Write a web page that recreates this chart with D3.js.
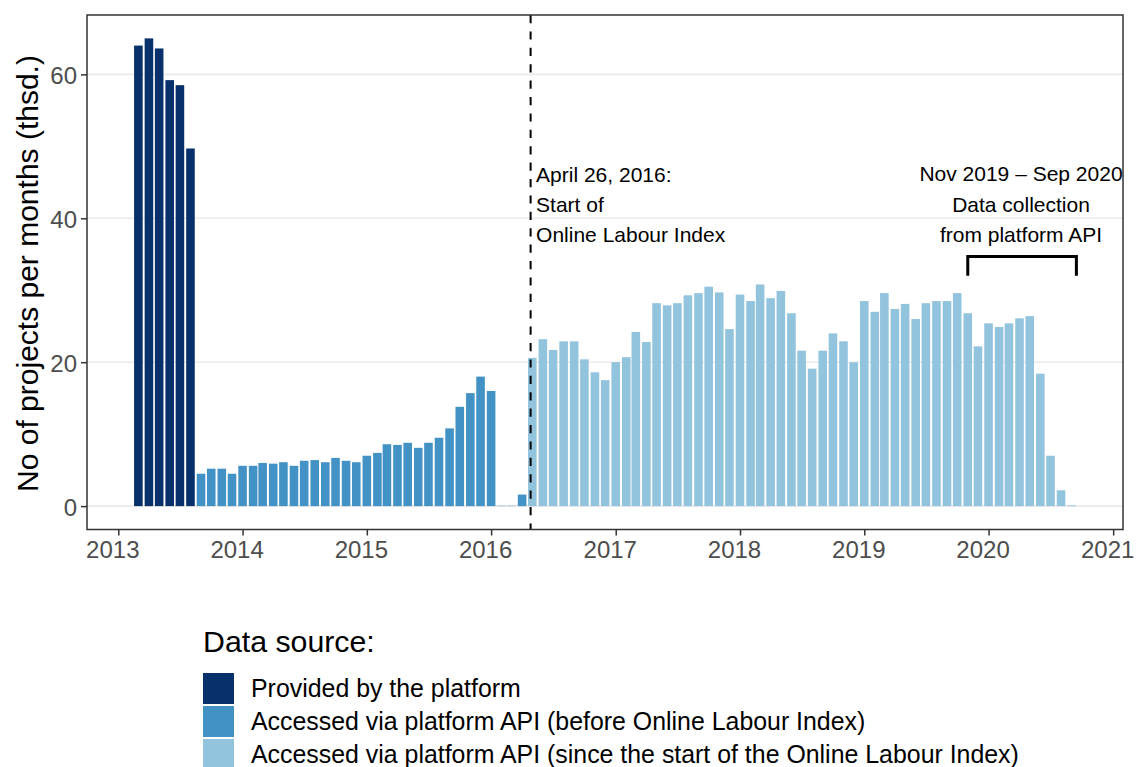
<!DOCTYPE html>
<html>
<head>
<meta charset="utf-8">
<script src="https://cdn.jsdelivr.net/npm/d3@7"></script>
<style>
  body { margin: 0; background: #fff; }
  svg { font-family: "Liberation Sans", Arial, sans-serif; }
</style>
</head>
<body>
<svg id="chart" width="1136" height="767"></svg>
<script>
// monthly project counts (thousands)
const platformStart = "2013-03";
const platformValues = [64.0, 65.0, 63.6, 59.2, 58.5, 49.7];

const apiBeforeStart = "2013-09";
const apiBeforeValues = [4.5, 5.2, 5.2, 4.5, 5.6, 5.6, 6.0, 5.9, 6.1, 5.6, 6.3, 6.4,
  6.1, 6.7, 6.3, 6.1, 7.0, 7.4, 8.6, 8.5, 8.8, 8.1, 8.8, 9.5,
  10.8, 13.8, 15.7, 18.0, 16.0, 0.05, 0.05, 1.6];

const apiSinceStart = "2016-05";
const apiSinceValues = [20.6, 23.2, 21.7, 22.9, 22.9, 20.4, 18.6, 17.5,
  20.0, 20.7, 24.2, 22.8, 28.2, 27.9, 28.2, 29.3, 29.6, 30.5, 29.7, 24.6,
  29.4, 28.5, 30.8, 28.9, 29.9, 26.8, 21.6, 19.1, 21.6, 24.0, 22.9, 20.0,
  28.5, 27.0, 29.6, 27.4, 28.1, 26.0, 28.2, 28.5, 28.5, 29.6, 26.8, 22.2,
  25.4, 24.9, 25.4, 26.1, 26.4, 18.4, 7.0, 2.2, 0.1];

const sourceLabels = [
  "Provided by the platform",
  "Accessed via platform API (before Online Labour Index)",
  "Accessed via platform API (since the start of the Online Labour Index)"
];
const sourceColors = ["#08306b", "#4292c6", "#93c4de"];

const yTicks = [0, 20, 40, 60];
const xTickYears = [2013, 2014, 2015, 2016, 2017, 2018, 2019, 2020, 2021];

const oliStart = "2016-04-26";
const oliText = ["April 26, 2016:", "Start of", "Online Labour Index"];
const apiWindow = ["2019-11-01", "2020-09-15"];
const apiText = ["Nov 2019 \u2013 Sep 2020", "Data collection", "from platform API"];

const parseMonth = d3.timeParse("%Y-%m");
const parseDay = d3.timeParse("%Y-%m-%d");

function series(start, values, group) {
  const t0 = parseMonth(start);
  return values.map((v, i) => ({date: d3.timeMonth.offset(t0, i), value: v, group}));
}
const data = [].concat(
  series(platformStart, platformValues, 0),
  series(apiBeforeStart, apiBeforeValues, 1),
  series(apiSinceStart, apiSinceValues, 2)
);

const svg = d3.select("#chart");
const margin = {left: 87, right: 1123, top: 15, bottom: 529.5};

// bar width = 0.9 * smallest gap between months (28 days)
const halfBar = 0.45 * 28 * 864e5;
const dMin = +d3.min(data, d => d.date) - halfBar;
const dMax = +d3.max(data, d => d.date) + halfBar;
const pad = (dMax - dMin) * 0.05;
const x = d3.scaleTime()
  .domain([new Date(dMin - pad), new Date(dMax + pad)])
  .range([margin.left, margin.right]);

const yMax = d3.max(data, d => d.value);
const y = d3.scaleLinear()
  .domain([-yMax * 0.05, yMax * 1.05])
  .range([margin.bottom, margin.top]);

// grid
svg.append("g")
  .selectAll("line")
  .data(yTicks)
  .join("line")
  .attr("x1", margin.left).attr("x2", margin.right)
  .attr("y1", d => y(d)).attr("y2", d => y(d))
  .attr("stroke", "#ebebeb").attr("stroke-width", 1.6);

// bars
svg.append("g")
  .selectAll("rect")
  .data(data)
  .join("rect")
  .attr("x", d => x(new Date(+d.date - halfBar)))
  .attr("width", d => x(new Date(+d.date + halfBar)) - x(new Date(+d.date - halfBar)))
  .attr("y", d => y(d.value))
  .attr("height", d => y(0) - y(d.value))
  .attr("fill", d => sourceColors[d.group]);

// dashed line for OLI start
const xo = x(parseDay(oliStart));
svg.append("line")
  .attr("x1", xo).attr("x2", xo)
  .attr("y1", margin.top).attr("y2", margin.bottom)
  .attr("stroke", "#000").attr("stroke-width", 2)
  .attr("stroke-dasharray", "8.2,8.2");

// annotation texts
svg.append("g")
  .selectAll("text")
  .data(oliText)
  .join("text")
  .attr("x", xo + 5.5)
  .attr("y", (d, i) => 182.3 + i * 30)
  .attr("font-size", 21)
  .attr("fill", "#000")
  .text(d => d);

const bx0 = x(parseDay(apiWindow[0])), bx1 = x(parseDay(apiWindow[1]));
svg.append("g")
  .selectAll("text")
  .data(apiText)
  .join("text")
  .attr("x", 1021)
  .attr("y", (d, i) => 181 + i * 30.5)
  .attr("text-anchor", "middle")
  .attr("font-size", 21)
  .attr("fill", "#000")
  .text(d => d);

svg.append("path")
  .attr("d", `M${bx0},${y(32)}V${y(34.7)}H${bx1}V${y(32)}`)
  .attr("fill", "none")
  .attr("stroke", "#000")
  .attr("stroke-width", 3);

// panel border
svg.append("rect")
  .attr("x", margin.left).attr("y", margin.top)
  .attr("width", margin.right - margin.left)
  .attr("height", margin.bottom - margin.top)
  .attr("fill", "none").attr("stroke", "#333").attr("stroke-width", 1.5);

// axes
const yAxis = d3.axisLeft(y).tickValues(yTicks).tickSize(6).tickPadding(4);
const gy = svg.append("g").attr("transform", `translate(${margin.left},0)`).call(yAxis);
const xAxis = d3.axisBottom(x)
  .tickValues(xTickYears.map(v => new Date(v, 0, 1)))
  .tickFormat(d3.timeFormat("%Y"))
  .tickSize(6).tickPadding(5.5);
const gx = svg.append("g").attr("transform", `translate(0,${margin.bottom})`).call(xAxis);
[gx, gy].forEach(g => {
  g.select(".domain").remove();
  g.selectAll(".tick line").attr("stroke", "#333").attr("stroke-width", 1.5);
  g.selectAll(".tick text").attr("fill", "#4d4d4d").attr("font-size", 24)
    .attr("font-family", "Liberation Sans, Arial, sans-serif");
});
gx.selectAll(".tick text").attr("dx", -6);
gy.selectAll(".tick text").attr("dy", "0.38em");

// y title
svg.append("text")
  .attr("transform", `translate(37.5,273.5) rotate(-90)`)
  .attr("text-anchor", "middle")
  .attr("font-size", 30)
  .attr("fill", "#000")
  .text("No of projects per months (thsd.)");

// legend
const legend = svg.append("g").attr("transform", "translate(203,0)");
legend.append("text")
  .attr("x", 0).attr("y", 652)
  .attr("font-size", 30.3)
  .attr("fill", "#000")
  .text("Data source:");
const items = legend.selectAll("g.item")
  .data(sourceLabels)
  .join("g")
  .attr("class", "item")
  .attr("transform", (d, i) => `translate(0,${673 + i * 33})`);
items.append("rect")
  .attr("width", 31).attr("height", 31)
  .attr("fill", (d, i) => sourceColors[i]);
items.append("text")
  .attr("x", 48).attr("y", 24)
  .attr("font-size", 24.9)
  .attr("fill", "#000")
  .text(d => d);
</script>
</body>
</html>
